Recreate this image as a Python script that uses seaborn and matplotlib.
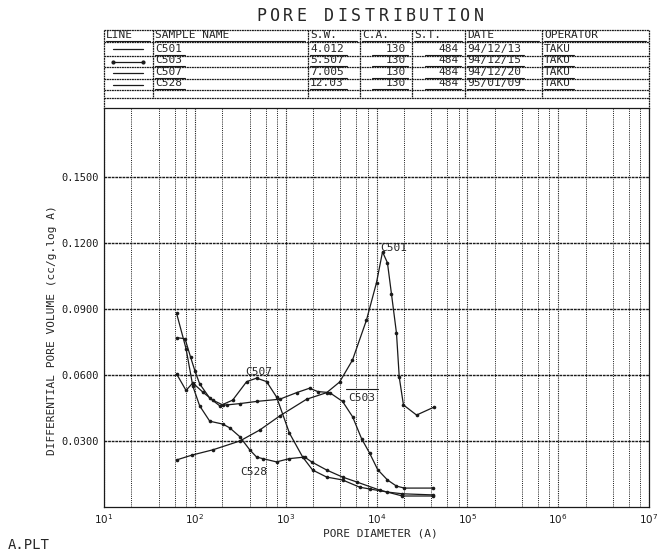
import pandas as pd
import seaborn as sns
from matplotlib import pyplot as plt
from matplotlib.ticker import LogLocator, FixedLocator, NullFormatter, FuncFormatter

# pore diameter (A) / differential pore volume (cc/g.log A)
c501_x = [63, 93, 158, 313, 518, 860, 1700, 2830, 3920, 5440, 7760, 10000, 11650,
          13200, 14600, 16600, 17800, 19800, 27600, 43400]
c501_y = [0.0214, 0.0236, 0.026, 0.030, 0.035, 0.0414, 0.049, 0.052, 0.0568, 0.0668,
          0.085, 0.102, 0.116, 0.111, 0.097, 0.079, 0.059, 0.0464, 0.0418, 0.0455]

c503_x = [63, 80, 95, 122, 157, 203, 224, 312, 479, 860, 1320, 1830, 2250, 3050,
          4230, 5460, 6860, 8400, 10300, 13200, 16600, 20300, 42000]
c503_y = [0.0605, 0.053, 0.0564, 0.0523, 0.0486, 0.0464, 0.0464, 0.047, 0.048, 0.049,
          0.052, 0.054, 0.0525, 0.052, 0.048, 0.041, 0.031, 0.0245, 0.017, 0.0123,
          0.0095, 0.0086, 0.0086]

c507_x = [63, 78, 90, 100, 113, 146, 188, 261, 372, 479, 617, 794, 1100, 1540, 1980,
          2830, 4230, 6530, 8400, 13200, 19300, 42000]
c507_y = [0.077, 0.0765, 0.068, 0.062, 0.056, 0.0495, 0.046, 0.0486, 0.057, 0.0586,
          0.057, 0.050, 0.0336, 0.0227, 0.0168, 0.0136, 0.0123, 0.009, 0.0082, 0.0068,
          0.006, 0.0055]

c528_x = [63, 80, 95, 113, 146, 203, 242, 312, 402, 479, 559, 794, 1100, 1620, 1930,
          2830, 4230, 6040, 10800, 19300, 42000]
c528_y = [0.088, 0.072, 0.055, 0.046, 0.039, 0.0377, 0.036, 0.032, 0.026, 0.0227,
          0.022, 0.0205, 0.022, 0.0227, 0.0205, 0.0168, 0.0136, 0.0114, 0.0077, 0.005,
          0.005]

samples = ["C501", "C503", "C507", "C528"]
sample_w = ["4.012", "5.507", "7.005", "12.03"]
contact_angle = ["130", "130", "130", "130"]
surface_t = ["484", "484", "484", "484"]
dates = ["94/12/13", "94/12/15", "94/12/20", "95/01/09"]
operators = ["TAKU", "TAKU", "TAKU", "TAKU"]
headers = ["LINE", "SAMPLE NAME", "S.W.", "C.A.", "S.T.", "DATE", "OPERATOR"]
y_ticks = [0.03, 0.06, 0.09, 0.12, 0.15]

frames = []
for name, xs, ys in [("C501", c501_x, c501_y), ("C503", c503_x, c503_y),
                     ("C507", c507_x, c507_y), ("C528", c528_x, c528_y)]:
    frames.append(pd.DataFrame({"diameter": xs, "volume": ys, "sample": name}))
df = pd.concat(frames)

sns.set_theme(style="white")
plt.rcParams['font.family'] = ['DejaVu Sans Mono']
plt.rcParams['mathtext.fontset'] = 'dejavusans'

fig = plt.figure(figsize=(6.61, 5.52), dpi=100)
W, H = 661, 552
ax = fig.add_axes([104 / W, 1 - 507 / H, (649 - 104) / W, (507 - 108) / H])

sns.lineplot(data=df, x="diameter", y="volume", units="sample", estimator=None,
             sort=False, color="k", lw=0.9, marker="o", markersize=2.6,
             markeredgewidth=0, ax=ax)

ax.set_xscale("log")
ax.set_xlim(10, 1e7)
ax.set_ylim(0, 0.1814)
ax.xaxis.set_major_locator(LogLocator(base=10, numticks=10))
ax.xaxis.set_minor_locator(LogLocator(base=10, subs=[2, 4, 6, 8], numticks=10))
ax.xaxis.set_minor_formatter(NullFormatter())
ax.xaxis.set_major_formatter(FuncFormatter(lambda v, p: r"$10^{%d}$" % round(__import__("math").log10(v))))
ax.yaxis.set_major_locator(FixedLocator(y_ticks))
ax.yaxis.set_major_formatter(FuncFormatter(lambda v, p: "%.4f" % v))
ax.grid(which="major", axis="x", color="k", lw=0.8, ls=(0, (1, 1)))
ax.grid(which="minor", axis="x", color="k", lw=0.7, ls=(0, (1, 1.2)))
ax.grid(which="major", axis="y", color="k", lw=1.0, ls=(0, (2, 0.6)))
ax.tick_params(which="both", length=0, labelsize=7.5, colors="k", pad=4)
ax.set_xlabel("")
ax.set_ylabel("")
for s in ax.spines.values():
    s.set_color("k")
    s.set_linewidth(0.9)

# overlay in pixel coordinates for the header table and free text
ov = fig.add_axes([0, 0, 1, 1])
ov.set_xlim(0, W)
ov.set_ylim(H, 0)
ov.axis("off")
ov.patch.set_alpha(0)

lk = dict(color="k", lw=0.9, ls=(0, (1.5, 0.5)))
cols = [104, 153, 308, 360, 412, 465, 542, 649]
rows = [30, 42, 56, 67, 79, 90, 98]
for r in rows:
    ov.plot([cols[0], cols[-1]], [r, r], **lk)
for c in cols[1:-1]:
    ov.plot([c, c], [rows[0], rows[-1]], **lk)
ov.plot([cols[0], cols[0]], [rows[0], 108], **lk)
ov.plot([cols[-1], cols[-1]], [rows[0], 108], **lk)

fs = 8
cw = 6.7
ul = dict(color="k", lw=0.8)
for i, h in enumerate(headers):
    ov.text(cols[i] + 2, rows[1] - 2, h, fontsize=fs, ha="left", va="bottom")
    ov.plot([cols[i] + 2, cols[i + 1] - 3], [rows[1] - 1.5] * 2, **ul)

for k in range(4):
    yb = rows[k + 2] - 2
    ym = (rows[k + 1] + rows[k + 2]) / 2
    if k == 1:
        ov.plot([113, 143], [ym, ym], color="k", lw=0.9, marker="o", markersize=2,
                markevery=[0, 1])
    else:
        ov.plot([113, 143], [ym, ym], color="k", lw=0.9)
    left_cells = [(1, samples[k]), (2, sample_w[k]), (5, dates[k]), (6, operators[k])]
    for ci, txt in left_cells:
        x0 = cols[ci] + 2
        ov.text(x0, yb, txt, fontsize=fs, ha="left", va="bottom")
        ov.plot([x0, x0 + cw * len(txt) + 3], [yb + 0.5] * 2, **ul)
    for ci, txt in [(3, contact_angle[k]), (4, surface_t[k])]:
        x1 = cols[ci + 1] - 6
        ov.text(x1, yb, txt, fontsize=fs, ha="right", va="bottom")
        ov.plot([x1 - cw * len(txt) - 14, x1 + 2], [yb + 0.5] * 2, **ul)

title = "PORE DISTRIBUTION"
for i, ch in enumerate(title):
    ov.text(261 + i * 13.6, 16, ch, fontsize=12, ha="center", va="center")

ov.text(380, 248, "C501", fontsize=fs, ha="left", va="center")
ov.text(348, 398, "C503", fontsize=fs, ha="left", va="center")
ov.plot([346, 378], [389, 389], color="k", lw=0.8)
ov.text(245, 372, "C507", fontsize=fs, ha="left", va="center")
ov.text(240, 472, "C528", fontsize=fs, ha="left", va="center")

ov.text(52, 330, "DIFFERENTIAL PORE VOLUME (cc/g.log A)", fontsize=fs,
        rotation=90, ha="center", va="center")
ov.text(380, 533, "PORE DIAMETER (A)", fontsize=fs, ha="center", va="center")
ov.text(8, 545, "A.PLT", fontsize=10, ha="left", va="center")

fig.savefig("out.png", dpi=100)
